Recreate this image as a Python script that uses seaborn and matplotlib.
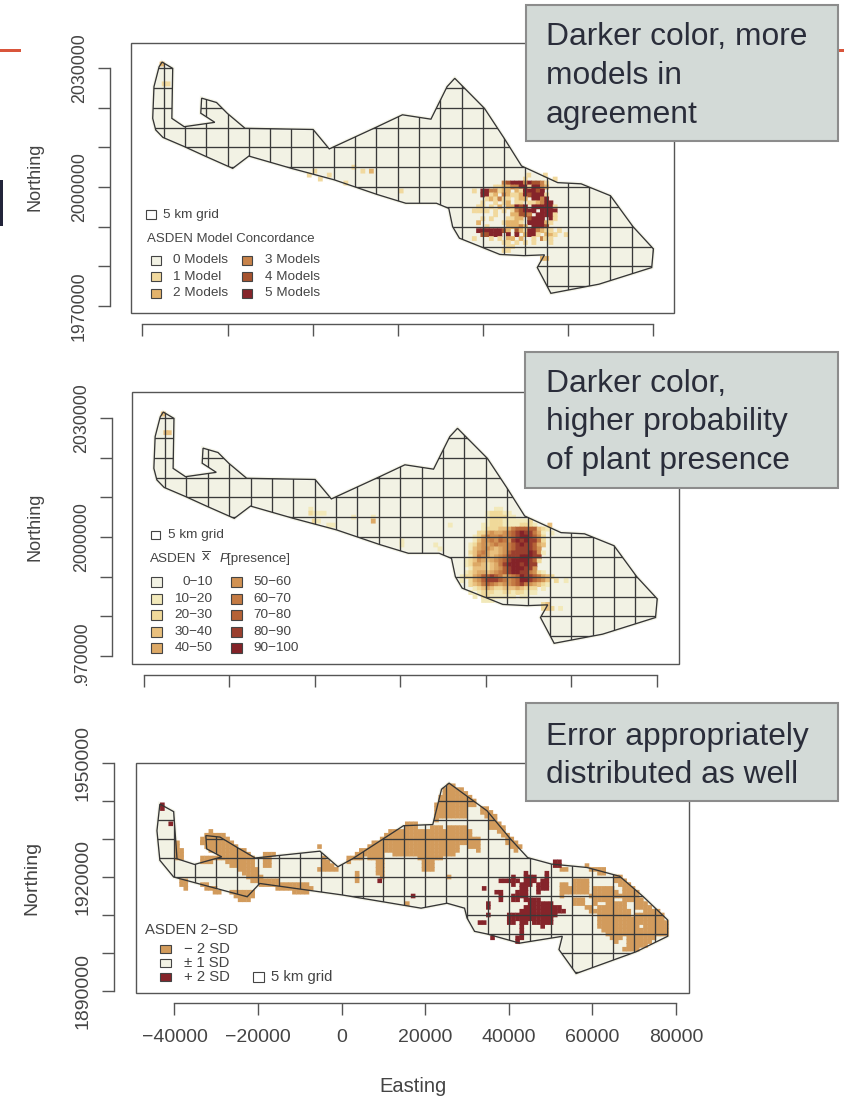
import numpy as np
import pandas as pd
import matplotlib
matplotlib.use("Agg")
import matplotlib.pyplot as plt
from matplotlib.patches import Polygon, Rectangle
import seaborn as sns

# ---- data (km) ----
shape_e = [-35.4,-32.9,-33.1,-30.2,-23.0,-26.3,-26.1,-22.6,-20.1,-15.9,0.1,3.9,15.2,21.1,27.8,31.6,33.4,40.4,45.0,49.1,57.6,63.1,70.0,75.3,80.1,79.7,67.3,56.0,52.8,54.5,49.7,44.0,34.5,32.9,32.0,29.1,21.9,15.2,5.1,-5.0,-15.0,-18.8,-25.1,-30.2,-35.2,-36.9,-37.6,-37.3,-36.1]
shape_n = [31.5,29.9,17.3,15.2,16.3,18.6,22.4,21.3,18.6,14.8,14.5,9.6,15.2,18.2,17.1,25.3,27.4,19.8,12.3,5.3,1.1,0.8,-2.2,-10.0,-15.6,-20.3,-24.5,-26.8,-20.3,-17.1,-17.3,-17.0,-12.9,-10.0,-5.4,-4.1,-4.1,-1.9,1.8,4.7,7.8,4.7,7.7,10.2,12.5,14.4,17.3,25.3,30.3]
shape3_e = [-43.5,-40.2,-39.4,-35.2,-28.7,-32.3,-32.5,-29.1,-25.2,-20.7,-5.2,-0.9,2.6,14.8,21.8,23.9,25.7,34.8,40.4,44.5,50.2,58.7,66.5,72.2,78.0,78.0,70.4,56.1,52.0,52.8,42.6,34.8,31.8,30.0,29.4,25.2,19.0,0.0,-19.6,-22.6,-40.2,-43.5,-44.2]
shape3_n = [19.2,17.2,4.8,3.3,5.3,7.4,10.9,10.5,7.9,5.0,6.8,2.7,4.8,13.5,13.8,23.1,24.7,17.4,10.0,5.1,3.4,2.5,0.2,-5.2,-11.3,-15.6,-19.7,-25.4,-19.1,-15.6,-17.4,-15.0,-14.3,-10.8,-8.2,-6.9,-8.2,-4.7,-1.7,-5.2,0.0,4.4,12.2]

concord_e0 = 37.5
concord_rows = {
 2:"            1      1",
 1:"       34555354431",
 0:"     1122335515532",
 -1:"1 5533122 2155545",
 -2:"  5512 32112545551",
 -3:"   121311 122 5535",
 -4:"  1  1 12 11 112355",
 -5:" 11 1 2 22545 555551",
 -6:"1111 1 1 134555 5555",
 -7:"     1   22443 55551",
 -8:"  1 1   1122 4555 51",
 -9:" 2     12221 555521",
 -10:"   1    22232 5554",
 -11:" 55555542 421553211 1",
 -12:"  44555 5 5 2551 221",
 -13:"1   1 1 22 2  1 3 1",
 -14:"       11 1 1 1   1",
 -15:"        11",
 -16:"       11",
}
concord_extra_e = [-35.4,-34.9,-34.0,-0.8,0.5,1.8,3.9,7.8,9.7,11.8,13.8,20.8,54.7,50.8,54.0,55.0,59.6,54.7,56.0]
concord_extra_n = [31.0,26.0,26.0,3.0,4.0,2.0,3.0,1.0,5.0,4.0,4.0,-1.0,3.0,3.0,-18.0,-18.0,-12.0,-13.0,-11.0]
concord_extra_l = [2,1,1,1,1,1,1,1,1,1,2,1,1,1,2,2,1,1,1]

prob_e0 = 34
prob_rows = {
 7:"        11",
 6:"      122211",
 5:"      1222211",
 4:"      12221111112",
 3:"     1122211112221",
 2:"     1222334677777321",
 1:"    2245445678988641 1",
 0:"   12465565678998752",
 -1:"   13556576589898862",
 -2:"  124545655678988743",
 -3:"  13455434567888875",
 -4:"  235643345788889851",
 -5:"  13654345688899988",
 -6:" 123543456789999872",
 -7:" 12443234689998988",
 -8:"  1333234578999885",
 -9:" 1234434567899886521",
 -10:"1224577876456798876432",
 -11:"1 2457888765679987653 2",
 -12:"  2346765455678654321",
 -13:"   123432233343222 1",
 -14:"  1 12221122122111",
 -15:"   1 22111111 11",
 -16:"     111",
 -17:"                   23",
 -18:"                   232 1",
}
prob_extra_e = [-35.4,-34.8,-34.0,-0.9,-0.9,0.1,1.2,2.2,-0.1,0.9,3.3,4.3,9.1,13.7,13.7,20.4,20.4,28.3,29.3,31.7,55.0,58.8]
prob_extra_n = [31.0,26.3,26.3,7.0,6.0,6.0,6.0,6.0,4.0,4.0,3.0,3.0,5.0,5.0,4.0,-1.0,-2.0,-2.0,-3.0,3.0,3.0,-11.0]
prob_extra_l = [3,3,3,1,2,1,1,1,2,1,1,1,1,1,4,1,1,1,1,1,3,1]

# rows of runs: northing (km), first cell, end cell (km)
low_runs = [
 (9,-40,-39),(8,-40,-39),(7,-40,-38),(6,-40,-38),(5,-40,-38),(10,-34,-33),(9,-34,-33),(12,-32,-31),
 (11,-33,-28),(10,-33,-27),(9,-34,-26),(8,-33,-25),(7,-32,-23),(6,-30,-22),(5,-34,-21),(4,-34,-31),(4,-28,-21),
 (3,-27,-21),(2,-25,-20),(1,-24,-20),(0,-23,-19),(-1,-22,-15),(-1,-39,-37),(-2,-20,-8),(-2,-39,-37),(-3,-38,-37),
 (-2,-34,-32),(-3,-33,-30),(-4,-31,-29),(-4,-27,-21),(-5,-26,-21),(-6,-25,-22),(-3,-16,-7),(-4,-12,-8),
 (6,-19,-16),(5,-19,-17),(4,-19,-17),(3,-19,-17),(8,-6,-5),(5,-5,-4),(4,-5,-3),(3,-5,-2),(2,-6,-1),
 (24,25,27),(23,24,29),(22,24,30),(21,23,31),(20,23,32),(19,22,32),(18,22,30),(18,33,35),(17,22,30),(17,33,36),
 (16,22,30),(16,34,37),(15,22,23),(15,35,37),(14,15,18),(14,35,38),(13,15,18),(13,21,24),(13,25,30),(13,35,39),
 (12,11,31),(12,37,39),(11,10,31),(11,38,40),(10,9,33),(10,39,41),(9,7,33),(9,39,42),(8,6,28),(8,30,33),(8,40,43),
 (7,4,28),(7,32,33),(7,41,42),(6,3,10),(6,12,27),(5,1,5),(5,6,10),(5,18,24),(4,1,2),(4,8,10),(4,19,22),(3,8,10),(3,19,22),
 (2,8,10),(2,19,22),(1,3,4),(1,8,10),(0,9,10),(0,3,4),(-1,3,4),(0,25,26),(-7,15,16),
 (3,58,59),(2,52,54),(2,59,63),(1,61,63),(0,65,67),(-1,55,59),(-1,65,68),(-2,52,54),(-2,55,59),(-2,66,69),
 (-3,52,59),(-3,60,65),(-3,67,70),(-4,52,59),(-4,60,66),(-4,67,71),(-5,52,53),(-5,59,71),(-6,55,58),(-6,60,65),(-6,67,72),
 (-7,55,58),(-7,60,61),(-7,63,68),(-7,70,73),(-8,58,60),(-8,61,68),(-8,70,74),(-9,59,61),(-9,61,69),(-9,72,76),
 (-10,61,69),(-10,70,77),(-11,61,77),(-12,61,78),(-13,61,71),(-13,72,78),(-14,62,78),(-15,63,75),(-15,75,78),
 (-16,64,67),(-16,68,75),(-17,65,66),(-17,68,74),(-18,68,73),(-19,67,71),
]
high_runs = [
 (19,-44,-43),(18,-44,-43),(14,-42,-41),(-1,8,9),(-5,16,17),(4,50,52),(3,50,52),
 (1,43,44),(1,48,49),(0,40,41),(0,43,46),(0,48,49),(-1,37,42),(-1,43,46),(-1,47,49),(-2,40,41),(-2,42,45),(-2,46,49),
 (-3,33,34),(-3,42,44),(-3,46,49),(-4,36,38),(-4,41,44),(-4,46,47),(-5,37,38),(-5,40,44),(-6,37,38),(-6,40,42),(-6,43,47),
 (-7,34,35),(-7,44,50),(-8,34,35),(-8,43,46),(-8,46,52),(-9,42,53),(-10,34,35),(-10,39,51),(-11,39,50),
 (-12,32,34),(-12,39,41),(-12,42,44),(-12,45,50),(-13,42,43),(-13,47,48),(-14,42,43),(-15,42,43),(-16,41,43),(-16,35,36),(-17,41,42),
]

concord_colors = {1:"#F1D99E",2:"#E3B36C",3:"#C8834A",4:"#A6532F",5:"#85242A"}
prob_colors = {1:"#F2E9BA",2:"#F0D99A",3:"#E9C07E",4:"#DDA966",5:"#D19253",6:"#C47A43",7:"#B56236",8:"#9A3F2E",9:"#842328"}
sd_colors = {1:"#D29B5C",2:"#85242A"}
CREAM = "#F2F2E4"
INK = "#444444"
concord_labels = ["0 Models","1 Model","2 Models","3 Models","4 Models","5 Models"]
prob_labels_a = ["0\u221210","10\u221220","20\u221230","30\u221240","40\u221250"]
prob_labels_b = ["50\u221260","60\u221270","70\u221280","80\u221290","90\u2212100"]
sd_labels = ["\u2212 2 SD","\u00b1 1 SD","+ 2 SD"]
boxes_text = [["Darker color, more","models in","agreement"],
              ["Darker color,","higher probability","of plant presence"],
              ["Error appropriately","distributed as well"]]

# ---- figure ----
sns.set_theme(style="white")
plt.rcParams["font.family"] = ["Liberation Sans", "DejaVu Sans"]
W, H = 845, 1100
fig = plt.figure(figsize=(W/100, H/100), dpi=100, facecolor="white")

def ptext(x, y, s, size, ha="left", va="center", color=INK, **kw):
    fig.text(x/W, 1-y/H, s, fontsize=size, ha=ha, va=va, color=color, zorder=kw.pop("zorder", 6), **kw)

def prect(x0, y0, x1, y1, fc, ec="#444444", lw=0.8, zorder=6):
    fig.add_artist(Rectangle((x0/W, 1-y1/H), (x1-x0)/W, (y1-y0)/H, transform=fig.transFigure,
                             facecolor=fc, edgecolor=ec, linewidth=lw, zorder=zorder))

def rows_df(rows, e0, extra=None):
    rec = []
    for n, s in rows.items():
        for i, c in enumerate(s):
            if c != " ":
                rec.append((e0+i+0.5, n, int(c)))
    if extra:
        rec.extend(zip(*extra))
    return pd.DataFrame(rec, columns=["e", "n", "level"])

def runs_df(runs, level, off):
    rec = []
    for n, a, b in runs:
        for e in range(a, b):
            rec.append((e+off, n, level))
    return pd.DataFrame(rec, columns=["e", "n", "level"])

def panel(frame, xticks_px, yticks_px, n_base, n_ticks, sh_e, sh_n, df, palette, spine_left, spine_bottom,
          ylabel_size, xlabel=False, size=12.0, n_labels=()):
    l, r, t, b = frame
    ax = fig.add_axes([l/W, 1-b/H, (r-l)/W, (b-t)/H])
    ax.patch.set_alpha(0)
    sx = (xticks_px[1]-xticks_px[0])/120000
    sy = (yticks_px[1]-yticks_px[0])/(n_ticks[0]-n_ticks[-1])
    ax.set_xlim(-40000+(l-xticks_px[0])/sx, -40000+(r-xticks_px[0])/sx)
    ax.set_ylim(n_ticks[-1]-(b-yticks_px[1])/sy, n_ticks[0]+(yticks_px[0]-t)/sy)
    pts = np.column_stack([np.array(sh_e)*1000, n_base+np.array(sh_n)*1000])
    ax.add_patch(Polygon(pts, closed=True, facecolor=CREAM, edgecolor="#F4F4E8", linewidth=2.6, zorder=1))
    plot = df.assign(e=df.e*1000, n=n_base+df.n*1000)
    sns.scatterplot(data=plot, x="e", y="n", hue="level", palette=palette, marker="s", s=size,
                    linewidth=0, legend=False, ax=ax, zorder=2)
    ax.collections[-1].set_snap(False)
    clip = Polygon(pts, closed=True, transform=ax.transData, facecolor="none", edgecolor="none")
    ax.add_patch(clip)
    y0, y1 = ax.get_ylim(); x0, x1 = ax.get_xlim()
    vg = np.arange(-45000, 90000, 5000)
    hg = np.arange(n_base-40000, n_base+40000, 5000)
    lc1 = ax.vlines(vg, y0, y1, color="#3A3A3A", linewidth=0.95, zorder=3)
    lc2 = ax.hlines(hg, x0, x1, color="#3A3A3A", linewidth=0.95, zorder=3)
    lc1.set_clip_path(clip); lc2.set_clip_path(clip)
    ax.add_patch(Polygon(pts, closed=True, facecolor="none", edgecolor="#353535", linewidth=0.95, zorder=4))
    ax.add_patch(Rectangle((0, 0), 1, 1, transform=ax.transAxes, fill=False, edgecolor="#555555",
                           linewidth=1.0, clip_on=False, zorder=5))
    for s in ("top", "right"):
        ax.spines[s].set_visible(False)
    ax.spines["left"].set_position(("outward", spine_left*0.72))
    ax.spines["bottom"].set_position(("outward", spine_bottom*0.72))
    for s in ("left", "bottom"):
        ax.spines[s].set_color("#555555"); ax.spines[s].set_linewidth(1.0); ax.spines[s].set_visible(True)
    xt = np.arange(-40000, 80001, 20000)
    yt = np.arange(n_ticks[-1], n_ticks[0]+1, 10000)
    ax.spines["bottom"].set_bounds(-40000, 80000)
    ax.spines["left"].set_bounds(n_ticks[-1], n_ticks[0])
    ax.set_xticks(xt); ax.set_yticks(yt)
    ax.set_xticklabels([f"{v:d}".replace("-", "\u2212") for v in xt] if xlabel else [""]*len(xt))
    ax.set_yticklabels([str(v) if v in n_labels else "" for v in yt], rotation=90, va="center")
    ax.tick_params(axis="both", which="major", length=8.4, width=1.0, color="#555555", left=True, bottom=True,
                   labelcolor=INK)
    ax.tick_params(axis="y", labelsize=ylabel_size, pad=7.5)
    ax.tick_params(axis="x", labelsize=14, pad=10.5)
    ax.set_xlabel(""); ax.set_ylabel("")
    return ax

c_extra = (concord_extra_e, concord_extra_n, concord_extra_l)
p_extra = (prob_extra_e, prob_extra_n, prob_extra_l)
df1 = rows_df(concord_rows, concord_e0, c_extra)
df2 = rows_df(prob_rows, prob_e0, p_extra)
df3 = pd.concat([runs_df(low_runs, 1, 0.7), runs_df(high_runs, 2, 1.1)], ignore_index=True)

panel((131, 674, 42.5, 313.5), (142.5, 653), (68, 306), 2000000, (2030000, 2000000, 1970000), shape_e, shape_n,
      df1, concord_colors, 21, 10.5, 12.8, n_labels=(2030000, 2000000, 1970000))
panel((132.5, 679, 391.7, 664), (143.6, 656.8), (418, 656), 2000000, (2030000, 2000000, 1970000), shape_e, shape_n,
      df2, prob_colors, 20, 11, 12.8, n_labels=(2030000, 2000000, 1970000))
panel((136, 689, 763, 993), (174.5, 676), (762, 991), 1920000, (1950000, 1920000, 1890000), shape3_e, shape3_n,
      df3, sd_colors, 22, 10, 14, xlabel=True, size=11.0, n_labels=(1950000, 1920000, 1890000))

# axis titles
ptext(35, 177, "Northing", 13, ha="center", rotation=90)
ptext(35, 527, "Northing", 13, ha="center", rotation=90)
ptext(32, 878, "Northing", 14, ha="center", rotation=90)
ptext(413, 1087, "Easting", 14.5, ha="center")

# legend 1
prect(146.5, 210, 156.5, 219, "white")
ptext(163, 214.5, "5 km grid", 9.7)
ptext(147, 239, "ASDEN Model Concordance", 9.5)
cols1 = [CREAM]+[concord_colors[k] for k in range(1, 6)]
for i, lab in enumerate(concord_labels):
    xs = 150.7 if i < 3 else 241.8
    tx = 172.9 if i < 3 else 264.6
    yy = [260.3, 276.7, 293.3][i % 3]
    prect(xs, yy-4.6, xs+10.7, yy+4.6, cols1[i])
    ptext(tx, yy, lab, 9.7)

# legend 2
prect(151, 530.7, 160.4, 539.3, "white")
ptext(168.2, 535.3, "5 km grid", 9.7)
ptext(150.4, 558.7, "ASDEN", 9.7)
ptext(201.5, 558.2, r"$\overline{\mathrm{x}}$", 9.7, ha="left")
ptext(220, 558.7, "P", 9.7, style="italic")
ptext(227, 558.7, "[presence]", 9.7)
cols2 = [CREAM]+[prob_colors[k] for k in range(1, 10)]
rows2 = [582, 598.7, 615, 631.7, 648]
for i, yy in enumerate(rows2):
    prect(151.4, yy-4.8, 162.1, yy+4.8, cols2[i])
    ptext(212.5, yy, prob_labels_a[i], 9.7, ha="right")
    prect(231, yy-4.8, 241.8, yy+4.8, cols2[i+5])
    ptext(253.2, yy, prob_labels_b[i], 9.7)

# legend 3
ptext(145.5, 930, "ASDEN 2\u2212SD", 10.7)
cols3 = [sd_colors[1], CREAM, sd_colors[2]]
for yy, c, lab in zip([949, 963, 976.7], cols3, sd_labels):
    prect(160, yy-4.2, 171, yy+4.2, c)
    ptext(183.6, yy, lab, 10.7)
prect(253.5, 972, 263.6, 981.7, "white")
ptext(271, 976.7, "5 km grid", 10.7)

# annotation boxes
box_geom = [((526, 5, 838, 141), [45, 84, 122.7]), ((525, 352, 838, 488), [392, 430, 469]), ((526, 703, 838, 801), [745, 783])]
for ((x0, y0, x1, y1), bases), lines in zip(box_geom, boxes_text):
    prect(x0, y0, x1, y1, "#D3DAD7", ec="#8C8C8C", lw=1.5, zorder=7)
    for bl, s in zip(bases, lines):
        fig.text(546/W, 1-bl/H, s, fontsize=22.85, color="#2A2D3A", ha="left", va="baseline", zorder=8)

# slide decorations
prect(0, 48.5, 21, 52, "#D9553B", ec="none", lw=0, zorder=1)
prect(838, 48.5, 845, 52, "#D9553B", ec="none", lw=0, zorder=1)
prect(0, 180, 3, 226, "#22243A", ec="none", lw=0, zorder=1)
prect(60, 686, 100, 700, "white", ec="none", lw=0, zorder=9)

fig.savefig("out.png", dpi=100)
